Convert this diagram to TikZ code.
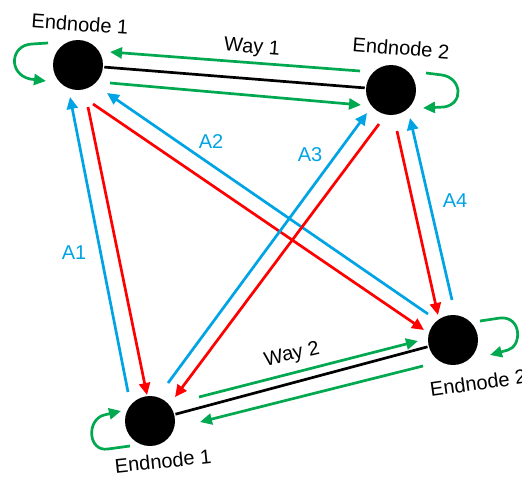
\documentclass[tikz,border=0pt]{standalone}
\usepackage{fontspec}
\setmainfont{Liberation Sans}
\usetikzlibrary{arrows.meta}
\definecolor{cblue}{RGB}{0,163,228}
\definecolor{cred}{RGB}{255,0,0}
\definecolor{cgreen}{RGB}{0,168,80}
\begin{document}
\begin{tikzpicture}[x=1pt,y=-1pt,line width=2.7pt,
  endnode/.style={circle,fill=black,minimum size=50pt,inner sep=0pt},
  lbl/.style={font=\fontsize{20}{23}\selectfont,inner sep=0pt},
  albl/.style={lbl,text=cblue},
  arr/.style={-{Triangle[length=12pt,width=11pt]}},
  garr/.style={arr,draw=cgreen},
  rarr/.style={arr,draw=cred},
  barr/.style={arr,draw=cblue},
  link/.style={draw=black}]
\useasboundingbox (0,0) rectangle (522,477);
% nodes
\node[endnode] (n1) at (78,65) {};
\node[endnode] (n2) at (391,90) {};
\node[endnode] (n3) at (150,421) {};
\node[endnode] (n4) at (453,340) {};
% black links
\draw[link] (n1) -- (n2);
\draw[link] (n3) -- (n4);
% arrow end coordinates
\coordinate (g1a) at (360,71);  \coordinate (g1b) at (110,52);
\coordinate (g2a) at (110,83);  \coordinate (g2b) at (361,105);
\coordinate (g3a) at (199,397); \coordinate (g3b) at (418,341);
\coordinate (g4a) at (423,366); \coordinate (g4b) at (200,422);
\coordinate (r13a) at (88,107);  \coordinate (r13b) at (147,395);
\coordinate (b31a) at (128,392); \coordinate (b31b) at (70,97);
\coordinate (r24a) at (397,131); \coordinate (r24b) at (438,315);
\coordinate (b42a) at (452,300); \coordinate (b42b) at (410,118);
\coordinate (r14a) at (93,104);  \coordinate (r14b) at (424,330);
\coordinate (b41a) at (428,314); \coordinate (b41b) at (107,93);
\coordinate (b32a) at (168,383); \coordinate (b32b) at (367,113);
\coordinate (r23a) at (379,124); \coordinate (r23b) at (175,397);
% green arrows
\draw[garr] (g1a) -- (g1b);
\draw[garr] (g2a) -- (g2b);
\draw[garr] (g3a) -- (g3b);
\draw[garr] (g4a) -- (g4b);
% red / blue arrows
\draw[rarr] (r13a) -- (r13b);
\draw[barr] (b31a) -- (b31b);
\draw[rarr] (r24a) -- (r24b);
\draw[barr] (b42a) -- (b42b);
\draw[rarr] (r14a) -- (r14b);
\draw[barr] (b41a) -- (b41b);
\draw[barr] (b32a) -- (b32b);
\draw[rarr] (r23a) -- (r23b);
% self loops
\coordinate (l1a) at (48,43); \coordinate (l1b) at (46,81);
\coordinate (l2a) at (426,73); \coordinate (l2b) at (423,108);
\coordinate (l3a) at (130,446); \coordinate (l3b) at (121,411);
\coordinate (l4a) at (480,321); \coordinate (l4b) at (490,355);
\draw[garr] (l1a) -- (32,44) .. controls (10,45) and (8,74) .. (30,79) -- (l1b);
\draw[garr] (l2a) -- (442,75) .. controls (462,78) and (464,104) .. (444,107) -- (l2b);
\draw[garr] (l3a) -- (108,449) .. controls (88,452) and (86,420) .. (104,415) -- (l3b);
\draw[garr] (l4a) -- (500,318) .. controls (522,316) and (522,346) .. (508,350) -- (l4b);
% labels
\node[lbl,rotate=-4] (t1) at (80,24) {Endnode 1};
\node[lbl,rotate=-4.5] (t2) at (401,48) {Endnode 2};
\node[lbl,rotate=6] (t3) at (163,461) {Endnode 1};
\node[lbl,rotate=8] (t4) at (478,383) {Endnode 2};
\node[lbl,rotate=-4.5] (w1) at (252,48) {Way 1};
\node[lbl,rotate=13] (w2) at (292,355) {Way 2};
\node[albl] (a1) at (74,253) {A1};
\node[albl] (a2) at (211,142) {A2};
\node[albl] (a3) at (310,155) {A3};
\node[albl] (a4) at (455,201) {A4};
\end{tikzpicture}
\end{document}
